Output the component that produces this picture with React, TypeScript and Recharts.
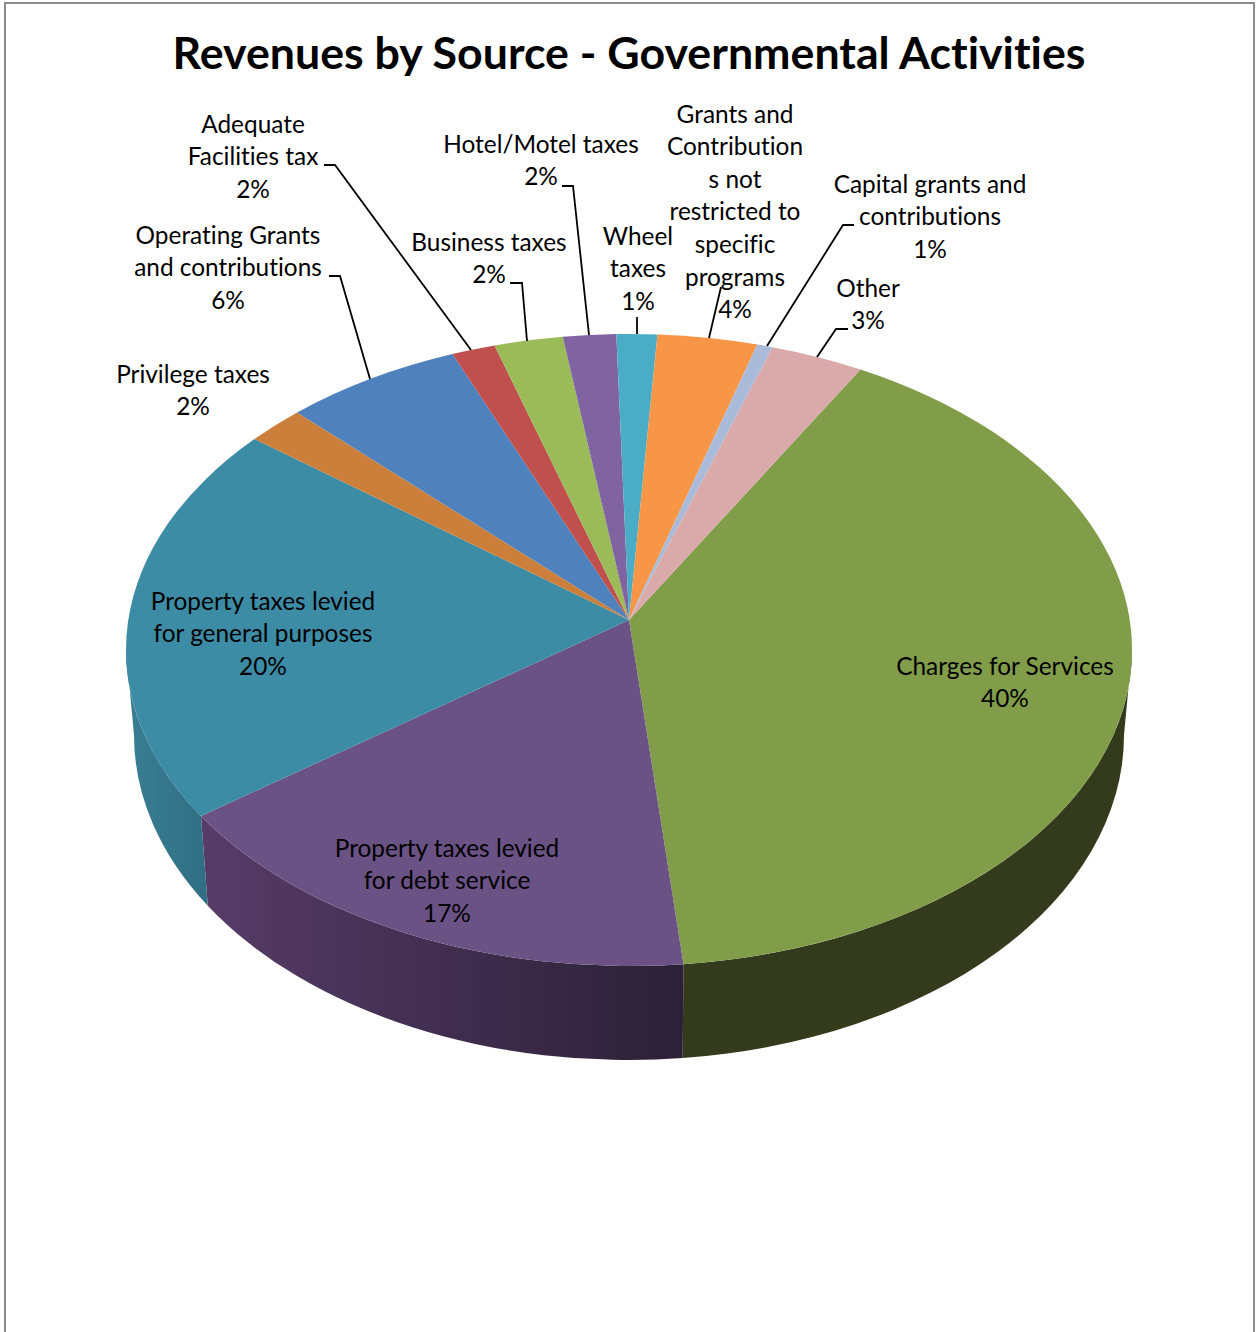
import { PieChart, Pie } from "recharts"

const names = [
	"Charges for Services",
	"Property taxes levied for debt service",
	"Property taxes levied for general purposes",
	"Privilege taxes",
	"Operating Grants and contributions",
	"Adequate Facilities tax",
	"Business taxes",
	"Hotel/Motel taxes",
	"Wheel taxes",
	"Grants and Contributions not restricted to specific programs",
	"Capital grants and contributions",
	"Other",
]
const values = [40.6, 17.9, 20.4, 1.9, 5.75, 1.4, 2.2, 1.7, 1.3, 3.2, 0.5, 3.0]
const percentLabels = ["40%", "17%", "20%", "2%", "6%", "2%", "2%", "2%", "1%", "4%", "1%", "3%"]
const labelLines = [
	["Charges for Services"],
	["Property taxes levied", "for debt service"],
	["Property taxes levied", "for general purposes"],
	["Privilege taxes"],
	["Operating Grants", "and contributions"],
	["Adequate", "Facilities tax"],
	["Business taxes"],
	["Hotel/Motel taxes"],
	["Wheel", "taxes"],
	["Grants and", "Contribution", "s not", "restricted to", "specific", "programs"],
	["Capital grants and", "contributions"],
	["Other"],
]

const colors = ["#829d4a", "#6a5284", "#3d8ca5", "#cb7f3a", "#4f81bd", "#c0504d", "#9bbb59", "#8064a2", "#4bacc6", "#f79646", "#a9bbd9", "#d9aaa9"]
const wallFills = ["#333b1c", "url(#wallPurple)", "url(#wallTeal)"]

// label placement: centre x, centre y of first line, leader line points
const labelLayout = [
	{ x: 1005, y: 665 },
	{ x: 447, y: 847 },
	{ x: 263, y: 600 },
	{ x: 193, y: 373 },
	{ x: 228, y: 234, line: "329,276 340,276 370,379" },
	{ x: 253, y: 123, line: "324,165 335,165 471,350" },
	{ x: 489, y: 241, line: "510,283 522,283 527,341" },
	{ x: 541, y: 143, line: "562,186 573,186 589,335" },
	{ x: 638, y: 235, line: "637,317 637,334" },
	{ x: 735, y: 113, line: "721,287 709,338" },
	{ x: 930, y: 183, line: "854,225 843,225 767,346" },
	{ x: 868, y: 287, line: "848,329 836,329 817,357" },
]

const data = names.map((name, i) => ({ name, value: values[i], fill: colors[i] }))

const LINE_H = 32.6
const FONT = "Lato, sans-serif"

// tilted pie: top face ellipse, apex sits above its centre because of the perspective
const TOP = { cy: 650, rx: 503, ry: 316 }
const BOTTOM = { cy: 735, rx: 495, ry: 325 }

function pt(e: typeof TOP, cx: number, deg: number) {
	const a = (deg * Math.PI) / 180
	return `${cx + e.rx * Math.cos(a)} ${e.cy - e.ry * Math.sin(a)}`
}

function Slice(props: any) {
	const { cx, cy, startAngle, endAngle, index } = props
	const large = startAngle - endAngle > 180 ? 1 : 0
	const top = `M${cx} ${cy} L${pt(TOP, cx, startAngle)} A${TOP.rx} ${TOP.ry} 0 ${large} 1 ${pt(TOP, cx, endAngle)} Z`
	const a = Math.min(startAngle, 0)
	const b = Math.max(endAngle, -180)
	const wall =
		a > b
			? `M${pt(TOP, cx, a)} A${TOP.rx} ${TOP.ry} 0 0 1 ${pt(TOP, cx, b)} L${pt(BOTTOM, cx, b)} A${BOTTOM.rx} ${BOTTOM.ry} 0 0 0 ${pt(BOTTOM, cx, a)} Z`
			: null
	return (
		<g>
			{wall && <path d={wall} fill={wallFills[index]} />}
			<path d={top} fill={colors[index]} />
		</g>
	)
}

function SliceLabel(props: any) {
	const { index } = props
	const pos = labelLayout[index]
	const lines = [...labelLines[index], percentLabels[index]]
	return (
		<g>
			{pos.line && <polyline points={pos.line} fill="none" stroke="#000" strokeWidth={1.8} />}
			<text textAnchor="middle" fontFamily={FONT} fontSize={24.4} fill="#000" style={{ fontVariantLigatures: "none" }}>
				{lines.map((t, i) => (
					<tspan key={i} x={pos.x} y={pos.y + i * LINE_H} dominantBaseline="central">
						{t}
					</tspan>
				))}
			</text>
		</g>
	)
}

export default function App() {
	return (
		<div style={{ position: "absolute", left: 0, top: 0, width: 1259, height: 1332, overflow: "hidden", background: "#fff" }}>
			<div style={{ position: "absolute", left: 4, top: 2, width: 1247, height: 1340, border: "2px solid #8c8c8c" }} />
			<div style={{ position: "absolute", left: 0, top: 0 }}>
				<PieChart width={1259} height={1332} margin={{ top: 0, right: 0, bottom: 0, left: 0 }}>
					<defs>
						<linearGradient id="wallPurple" gradientUnits="userSpaceOnUse" x1="201" y1="0" x2="683" y2="0">
							<stop offset="0" stopColor="#573c68" />
							<stop offset="1" stopColor="#2b2036" />
						</linearGradient>
						<linearGradient id="wallTeal" gradientUnits="userSpaceOnUse" x1="130" y1="0" x2="208" y2="0">
							<stop offset="0" stopColor="#3a7d92" />
							<stop offset="1" stopColor="#2f6f84" />
						</linearGradient>
					</defs>
					<text x={629} y={52} textAnchor="middle" dominantBaseline="central" fontFamily={FONT} fontWeight={700} fontSize={44.7} fill="#000" style={{ fontVariantLigatures: "none" }}>
						Revenues by Source - Governmental Activities
					</text>
					<Pie
						data={data}
						dataKey="value"
						nameKey="name"
						cx={629}
						cy={620}
						innerRadius={0}
						outerRadius={503}
						startAngle={62.6}
						endAngle={-297.4}
						paddingAngle={0}
						stroke="none"
						shape={Slice}
						label={SliceLabel}
						labelLine={false}
						isAnimationActive={false}
					>
					</Pie>
				</PieChart>
			</div>
		</div>
	)
}
